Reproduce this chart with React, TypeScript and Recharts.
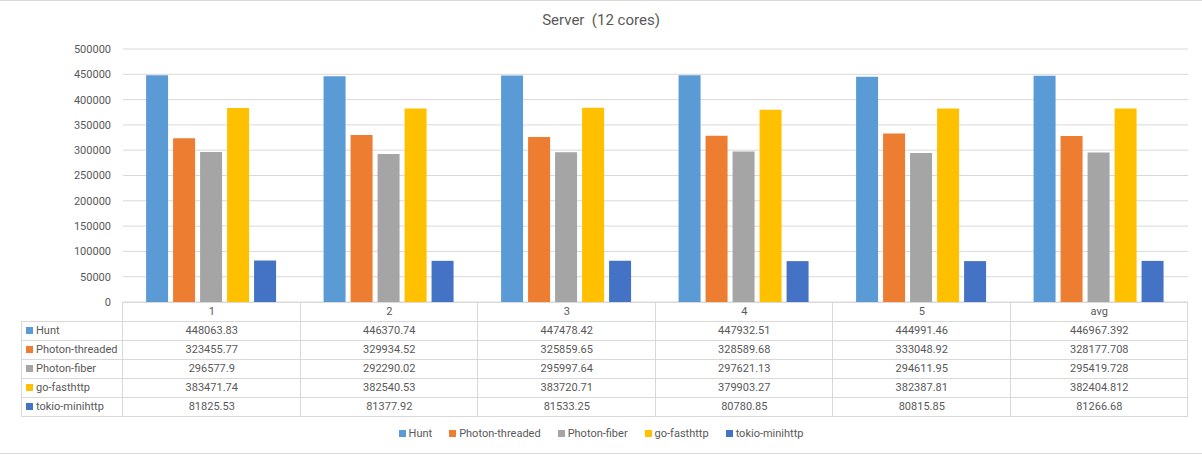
import { BarChart, Bar, XAxis, YAxis, CartesianGrid } from 'recharts';

const categories = ['1', '2', '3', '4', '5', 'avg'];
const seriesNames = ['Hunt', 'Photon-threaded', 'Photon-fiber', 'go-fasthttp', 'tokio-minihttp'];
const seriesColors = ['#5B9BD5', '#ED7D31', '#A5A5A5', '#FFC000', '#4472C4'];

const hunt = [448063.83, 446370.74, 447478.42, 447932.51, 444991.46, 446967.392];
const photonThreaded = [323455.77, 329934.52, 325859.65, 328589.68, 333048.92, 328177.708];
const photonFiber = [296577.9, 292290.02, 295997.64, 297621.13, 294611.95, 295419.728];
const goFasthttp = [383471.74, 382540.53, 383720.71, 379903.27, 382387.81, 382404.812];
const tokioMinihttp = [81825.53, 81377.92, 81533.25, 80780.85, 80815.85, 81266.68];

const yTicks = [0, 50000, 100000, 150000, 200000, 250000, 300000, 350000, 400000, 450000, 500000];

const seriesValues = [hunt, photonThreaded, photonFiber, goFasthttp, tokioMinihttp];

const data = categories.map((cat, i) => {
  const row: Record<string, string | number> = { cat };
  seriesNames.forEach((name, s) => {
    row[name] = seriesValues[s][i];
  });
  return row;
});

const W = 1202;
const H = 455;
const plotLeft = 123;
const plotRight = 1188;
const plotTop = 49;
const plotBottom = 302;
const tableLeft = 21;
const rowH = 19;
const colW = (plotRight - plotLeft) / categories.length;
const font = 'Roboto, sans-serif';
const textColor = '#595959';
const lineColor = '#d9d9d9';

function DataTable() {
  const cells: JSX.Element[] = [];
  // header row with the category names
  categories.forEach((c, i) => {
    cells.push(
      <div
        key={'h' + i}
        style={{
          position: 'absolute',
          left: plotLeft + i * colW,
          top: plotBottom,
          width: colW,
          height: rowH,
          lineHeight: rowH + 'px',
          textAlign: 'center',
        }}
      >
        {c}
      </div>
    );
  });
  seriesNames.forEach((name, s) => {
    const top = plotBottom + rowH * (s + 1);
    cells.push(
      <div
        key={'l' + s}
        style={{
          position: 'absolute',
          left: tableLeft + 5,
          top,
          height: rowH,
          lineHeight: rowH + 'px',
          display: 'flex',
          alignItems: 'center',
          whiteSpace: 'nowrap',
        }}
      >
        <span style={{ width: 7, height: 7, background: seriesColors[s], marginRight: 3, display: 'inline-block' }} />
        {name}
      </div>
    );
    seriesValues[s].forEach((v, i) => {
      cells.push(
        <div
          key={'v' + s + '-' + i}
          style={{
            position: 'absolute',
            left: plotLeft + i * colW,
            top,
            width: colW,
            height: rowH,
            lineHeight: rowH + 'px',
            textAlign: 'center',
          }}
        >
          {String(v)}
        </div>
      );
    });
  });

  const lines: JSX.Element[] = [];
  for (let r = 0; r <= seriesNames.length + 1; r++) {
    const y = plotBottom + r * rowH;
    const x1 = r === 0 ? plotLeft : tableLeft;
    lines.push(
      <div key={'hl' + r} style={{ position: 'absolute', left: x1, top: y, width: plotRight - x1, height: 1, background: lineColor }} />
    );
  }
  lines.push(
    <div key="vl-left" style={{ position: 'absolute', left: tableLeft, top: plotBottom + rowH, width: 1, height: rowH * seriesNames.length, background: lineColor }} />
  );
  for (let c = 0; c <= categories.length; c++) {
    lines.push(
      <div key={'vl' + c} style={{ position: 'absolute', left: Math.round(plotLeft + c * colW) - 1, top: plotBottom, width: 1, height: rowH * (seriesNames.length + 1), background: lineColor }} />
    );
  }

  return (
    <div style={{ position: 'absolute', left: 0, top: 0, fontFamily: font, fontSize: 11, color: textColor }}>
      {lines}
      {cells}
    </div>
  );
}

function LegendRow() {
  return (
    <div
      style={{
        position: 'absolute',
        left: 0,
        width: W,
        top: 427,
        display: 'flex',
        justifyContent: 'center',
        gap: 17,
        fontFamily: font,
        fontSize: 11,
        color: textColor,
      }}
    >
      {seriesNames.map((name, s) => (
        <div key={name} style={{ display: 'flex', alignItems: 'center' }}>
          <span style={{ width: 7, height: 7, background: seriesColors[s], marginRight: 3, display: 'inline-block' }} />
          {name}
        </div>
      ))}
    </div>
  );
}

export default function App() {
  return (
    <div style={{ position: 'absolute', left: 0, top: 0, width: W, height: H, background: '#fff' }}>
      {/* outer frame: only top and bottom edges show */}
      <div style={{ position: 'absolute', left: 0, top: 0, width: W, height: 1, background: lineColor }} />
      <div style={{ position: 'absolute', left: 0, top: 453, width: W, height: 1, background: lineColor }} />
      <div
        style={{
          position: 'absolute',
          left: 0,
          width: W,
          top: 11,
          textAlign: 'center',
          fontFamily: font,
          fontSize: 15,
          color: textColor,
          whiteSpace: 'pre',
        }}
      >
        {'Server  (12 cores)'}
      </div>
      <div style={{ position: 'absolute', left: 0, top: 0 }}>
        <BarChart
          width={W}
          height={H}
          data={data}
          margin={{ top: plotTop, right: W - plotRight, bottom: H - plotBottom, left: 0 }}
          barCategoryGap="13%"
          barGap={5}
        >
          <CartesianGrid vertical={false} stroke={lineColor} />
          <XAxis dataKey="cat" hide />
          <YAxis
            width={plotLeft}
            domain={[0, 500000]}
            ticks={yTicks}
            axisLine={false}
            tickLine={false}
            tickSize={0}
            tickMargin={12}
            tick={{ fill: textColor, fontSize: 11, fontFamily: font }}
          />
          {seriesNames.map((name, s) => (
            <Bar key={name} dataKey={name} fill={seriesColors[s]} isAnimationActive={false} />
          ))}
        </BarChart>
      </div>
      <DataTable />
      <LegendRow />
    </div>
  );
}
